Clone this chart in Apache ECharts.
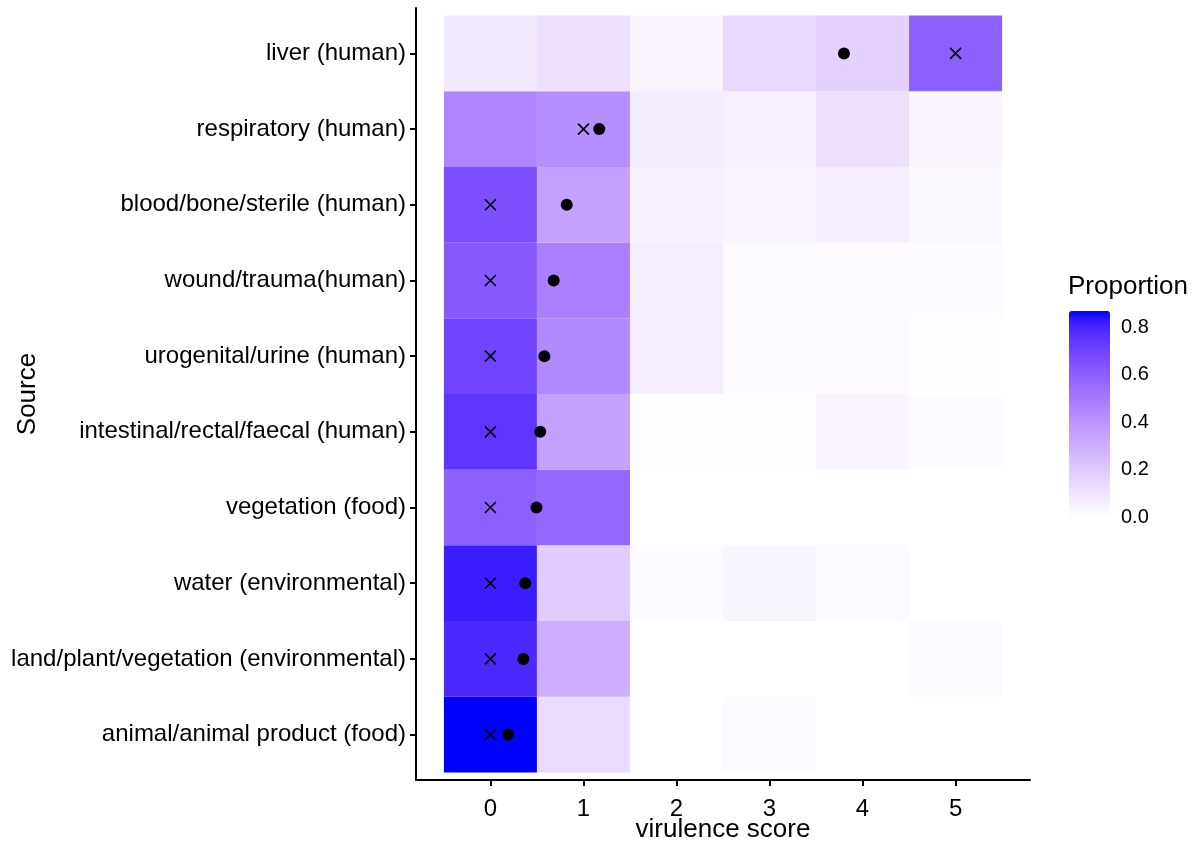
<!DOCTYPE html>
<html>
<head>
<meta charset="utf-8">
<script src="https://cdn.jsdelivr.net/npm/echarts@6/dist/echarts.min.js"></script>
<style>
html,body{margin:0;padding:0;background:#fff;}
#chart{width:1200px;height:845px;}
</style>
</head>
<body>
<div id="chart"></div>
<script>
// ---------------- data ----------------
// sources listed bottom -> top (y = 1..10)
const sources = [
  'animal/animal product (food)',
  'land/plant/vegetation (environmental)',
  'water (environmental)',
  'vegetation (food)',
  'intestinal/rectal/faecal (human)',
  'urogenital/urine (human)',
  'wound/trauma(human)',
  'blood/bone/sterile (human)',
  'respiratory (human)',
  'liver (human)'
];
const scores = [0, 1, 2, 3, 4, 5];
// proportion per source (row) and virulence score (column); null = no tile
const proportion = [
  [0.87, 0.13, null, 0.02, null, null],
  [0.79, 0.30, null, null, null, 0.02],
  [0.82, 0.19, 0.015, 0.035, 0.02, null],
  [0.60, 0.57, null, null, null, null],
  [0.75, 0.35, 0.005, 0.01, 0.04, 0.015],
  [0.70, 0.44, 0.06, 0.02, 0.02, 0.005],
  [0.62, 0.48, 0.06, 0.02, 0.02, 0.015],
  [0.66, 0.35, 0.05, 0.04, 0.06, 0.03],
  [0.46, 0.42, 0.07, 0.05, 0.11, 0.04],
  [0.08, 0.11, 0.04, 0.14, 0.17, 0.60]
];
const meanScore   = [0.19, 0.355, 0.375, 0.495, 0.535, 0.58, 0.68, 0.82, 1.17, 3.80];
const medianScore = [0, 0, 0, 0, 0, 0, 0, 0, 1, 5];
const legendTicks = [0, 0.2, 0.4, 0.6, 0.8];
const propMax = 0.87;

// ---------------- colour ramp (white -> blue in CIELAB, like ggplot) ----------------
function labToHex(L, a, b) {
  const fy = (L + 16) / 116, fx = fy + a / 500, fz = fy - b / 200;
  const finv = t => (t > 6 / 29 ? t * t * t : 3 * (6 / 29) * (6 / 29) * (t - 4 / 29));
  const X = 0.95047 * finv(fx), Y = 1.0 * finv(fy), Z = 1.08883 * finv(fz);
  let r = 3.2406 * X - 1.5372 * Y - 0.4986 * Z;
  let g = -0.9689 * X + 1.8758 * Y + 0.0415 * Z;
  let bl = 0.0557 * X - 0.2040 * Y + 1.0570 * Z;
  const gam = c => {
    c = Math.max(0, Math.min(1, c));
    return c <= 0.0031308 ? 12.92 * c : 1.055 * Math.pow(c, 1 / 2.4) - 0.055;
  };
  const h = c => Math.round(gam(c) * 255).toString(16).padStart(2, '0');
  return '#' + h(r) + h(g) + h(bl);
}
const labLow = [100, 0, 0], labHigh = [32.30, 79.19, -107.86];
const rampColors = [];
for (let i = 0; i <= 20; i++) {
  const t = i / 20;
  rampColors.push(labToHex(
    labLow[0] + (labHigh[0] - labLow[0]) * t,
    labLow[1] + (labHigh[1] - labLow[1]) * t,
    labLow[2] + (labHigh[2] - labLow[2]) * t));
}

// ---------------- build series data ----------------
const tileData = [];
proportion.forEach((row, yi) => {
  row.forEach((v, xi) => {
    if (v !== null) tileData.push([scores[xi], yi + 1, v]);
  });
});
const meanData = meanScore.map((m, i) => [m, i + 1]);
const medianData = medianScore.map((m, i) => [m, i + 1]);
const yTicks = sources.map((s, i) => i + 1);

const FONT = '"Liberation Sans", Arial, Helvetica, sans-serif';
const chart = echarts.init(document.getElementById('chart'), null, {renderer: 'canvas'});

const option = {
  backgroundColor: '#ffffff',
  animation: false,
  textStyle: {fontFamily: FONT},
  title: {
    text: 'Proportion',
    left: 1068, top: 274,
    padding: 0,
    textStyle: {fontFamily: FONT, fontSize: 26, fontWeight: 'normal', color: '#000'}
  },
  grid: [
    {left: 416, right: 170, top: 8, bottom: 65, containLabel: false, outerBoundsMode: 'none'},
    {left: 1069, top: 311, width: 41, height: 206, containLabel: false, outerBoundsMode: 'none'}
  ],
  xAxis: [
    {
      type: 'value', gridIndex: 0, min: -0.8, max: 5.8,
      name: 'virulence score', nameLocation: 'middle', nameGap: 37, nameMoveOverlap: false,
      nameTextStyle: {fontFamily: FONT, fontSize: 26, color: '#000'},
      axisLine: {show: true, onZero: false, lineStyle: {color: '#000', width: 2}},
      axisTick: {show: true, length: 6, lineStyle: {color: '#000', width: 2}, customValues: scores},
      axisLabel: {fontFamily: FONT, fontSize: 24, color: '#000', margin: 17, customValues: scores},
      splitLine: {show: false}
    },
    {type: 'value', gridIndex: 1, show: false, min: 0, max: 1}
  ],
  yAxis: [
    {
      type: 'value', gridIndex: 0, min: 0.4, max: 10.6,
      name: 'Source', nameLocation: 'middle', nameGap: 375, nameRotate: 90, nameMoveOverlap: false,
      nameTextStyle: {fontFamily: FONT, fontSize: 26, color: '#000'},
      axisLine: {show: true, onZero: false, lineStyle: {color: '#000', width: 2}},
      axisTick: {show: true, length: 6, lineStyle: {color: '#000', width: 2}, customValues: yTicks},
      axisLabel: {
        fontFamily: FONT, fontSize: 24, color: '#000', margin: 10, customValues: yTicks,
        formatter: v => sources[Math.round(v) - 1] || ''
      },
      splitLine: {show: false}
    },
    {
      type: 'value', gridIndex: 1, min: 0, max: propMax, position: 'right',
      axisLine: {show: false},
      axisTick: {show: true, inside: true, length: 8, lineStyle: {color: '#fff', width: 1}, customValues: legendTicks},
      axisLabel: {fontFamily: FONT, fontSize: 20, color: '#000', margin: 11, customValues: legendTicks,
        formatter: v => v.toFixed(1)},
      splitLine: {show: false}
    },
    {
      type: 'value', gridIndex: 1, min: 0, max: propMax, position: 'left',
      axisLine: {show: false},
      axisTick: {show: true, inside: true, length: 8, lineStyle: {color: '#fff', width: 1}, customValues: legendTicks},
      axisLabel: {show: false},
      splitLine: {show: false}
    }
  ],
  visualMap: {
    type: 'continuous',
    seriesIndex: 0,
    dimension: 2,
    min: 0, max: propMax,
    calculable: false,
    orient: 'vertical',
    left: 1069, top: 311,
    padding: 0,
    itemWidth: 41, itemHeight: 206,
    text: null,
    showLabel: false,
    inRange: {color: rampColors},
    z: 1
  },
  series: [
    {
      type: 'custom',
      xAxisIndex: 0, yAxisIndex: 0,
      data: tileData,
      encode: {x: 0, y: 1},
      renderItem: function (params, api) {
        const x = api.value(0), y = api.value(1);
        const a = api.coord([x - 0.5, y + 0.5]);
        const b = api.coord([x + 0.5, y - 0.5]);
        return {
          type: 'rect',
          shape: {x: a[0], y: a[1], width: b[0] - a[0], height: b[1] - a[1]},
          style: {fill: api.visual('color')}
        };
      },
      z: 1
    },
    {
      type: 'scatter',
      name: 'median',
      xAxisIndex: 0, yAxisIndex: 0,
      data: medianData,
      symbol: 'path://M0,0L10,10M10,0L0,10',
      symbolSize: 11,
      itemStyle: {color: 'rgba(0,0,0,0)', borderColor: '#000', borderWidth: 1.6, opacity: 1},
      z: 3
    },
    {
      type: 'scatter',
      name: 'mean',
      xAxisIndex: 0, yAxisIndex: 0,
      data: meanData,
      symbol: 'circle',
      symbolSize: 12,
      itemStyle: {color: '#000', opacity: 1},
      z: 4
    }
  ]
};
chart.setOption(option);
</script>
</body>
</html>
